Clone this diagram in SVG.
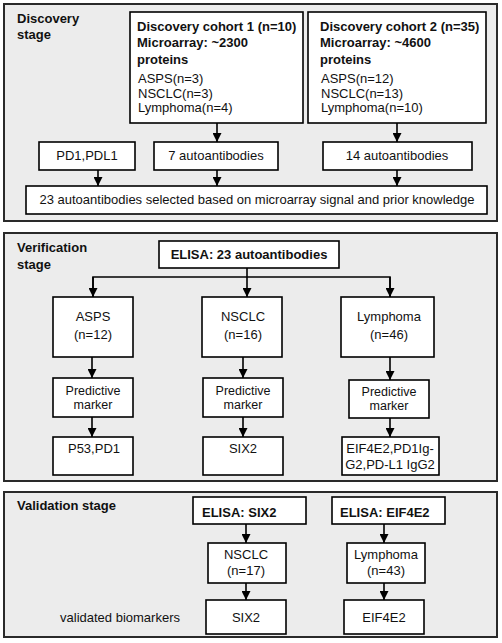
<svg xmlns="http://www.w3.org/2000/svg" width="502" height="643" viewBox="0 0 502 643">
<defs>
<marker id="ah" viewBox="0 0 10 10" refX="10" refY="5" markerWidth="9" markerHeight="9" markerUnits="userSpaceOnUse" orient="auto">
<path d="M0,0 L10,5 L0,10 z" fill="#000"/>
</marker>
<style>
.panel{fill:#ececec;stroke:#2a2a2a;stroke-width:2}
.box{fill:#fff;stroke:#000;stroke-width:1.6}
.t{font-family:"Liberation Sans",Arial,sans-serif;font-size:13px;fill:#111}
.s{font-size:12.5px}
.b{font-weight:bold}
.c{text-anchor:middle}
.ln{fill:none;stroke:#000;stroke-width:1.6}
.ar{fill:none;stroke:#000;stroke-width:1.6;marker-end:url(#ah)}
</style>
</defs>
<rect width="502" height="643" fill="#fff"/>
<g id="panel-discovery">
<rect class="panel" x="4" y="4" width="493" height="217"/>
<text class="t b" x="17" y="23">Discovery</text>
<text class="t b" x="17" y="39">stage</text>
</g>
<g id="panel-verification">
<rect class="panel" x="4" y="233" width="493" height="248"/>
<text class="t b" x="17" y="252">Verification</text>
<text class="t b" x="17" y="269">stage</text>
</g>
<g id="panel-validation">
<rect class="panel" x="4" y="492" width="493" height="145"/>
<text class="t b" x="17" y="510">Validation stage</text>
<text class="t" x="120" y="622" text-anchor="middle">validated biomarkers</text>
</g>
<g id="connectors">
<line class="ar" x1="217" y1="123" x2="217" y2="142"/>
<line class="ar" x1="397" y1="123" x2="397" y2="142"/>
<line class="ar" x1="98" y1="170" x2="98" y2="186"/>
<line class="ar" x1="217" y1="170" x2="217" y2="186"/>
<line class="ar" x1="397" y1="170" x2="397" y2="186"/>
<line class="ln" x1="247" y1="268" x2="247" y2="277"/>
<polyline class="ln" points="93,297 93,277 390,277 390,297"/>
<line class="ar" x1="93" y1="277" x2="93" y2="297"/>
<line class="ar" x1="247" y1="277" x2="247" y2="297"/>
<line class="ar" x1="390" y1="277" x2="390" y2="297"/>
<line class="ar" x1="92" y1="357" x2="92" y2="378"/>
<line class="ar" x1="243" y1="357" x2="243" y2="378"/>
<line class="ar" x1="390" y1="357" x2="390" y2="380"/>
<line class="ar" x1="92" y1="417" x2="92" y2="437"/>
<line class="ar" x1="243" y1="417" x2="243" y2="437"/>
<line class="ar" x1="390" y1="418" x2="390" y2="437"/>
<line class="ar" x1="246" y1="524" x2="246" y2="543"/>
<line class="ar" x1="384" y1="524" x2="384" y2="543"/>
<line class="ar" x1="246" y1="583" x2="246" y2="600"/>
<line class="ar" x1="384" y1="583" x2="384" y2="600"/>
</g>
<g id="cohort1">
<rect class="box" x="130" y="12" width="173" height="111"/>
<text class="t b" x="137" y="31">Discovery cohort 1 (n=10)</text>
<text class="t b" x="137" y="47">Microarray: ~2300</text>
<text class="t b" x="137" y="64">proteins</text>
<text class="t" x="138" y="83">ASPS(n=3)</text>
<text class="t" x="138" y="98">NSCLC(n=3)</text>
<text class="t" x="138" y="112">Lymphoma(n=4)</text>
</g>
<g id="cohort2">
<rect class="box" x="308" y="12" width="178" height="111"/>
<text class="t b" x="320" y="31">Discovery cohort 2 (n=35)</text>
<text class="t b" x="320" y="47">Microarray: ~4600</text>
<text class="t b" x="320" y="64">proteins</text>
<text class="t" x="321" y="83">ASPS(n=12)</text>
<text class="t" x="321" y="98">NSCLC(n=13)</text>
<text class="t" x="321" y="112">Lymphoma(n=10)</text>
</g>
<g id="pd1pdl1">
<rect class="box" x="39" y="142" width="96" height="28"/>
<text class="t c" x="87" y="160">PD1,PDL1</text>
</g>
<g id="auto7">
<rect class="box" x="154" y="142" width="124" height="28"/>
<text class="t c" x="216" y="160">7 autoantibodies</text>
</g>
<g id="auto14">
<rect class="box" x="323" y="142" width="149" height="28"/>
<text class="t c" x="397" y="160">14 autoantibodies</text>
</g>
<g id="auto23">
<rect class="box" x="26" y="186" width="461" height="28"/>
<text class="t c" x="257" y="204">23 autoantibodies selected based on microarray signal and prior knowledge</text>
</g>
<g id="elisa23">
<rect class="box" x="159" y="241" width="180" height="27"/>
<text class="t b c" x="249" y="259">ELISA: 23 autoantibodies</text>
</g>
<g id="v-asps">
<rect class="box" x="53" y="297" width="80" height="60"/>
<text class="t c" x="93" y="321">ASPS</text>
<text class="t c" x="93" y="339">(n=12)</text>
</g>
<g id="v-nsclc">
<rect class="box" x="202" y="297" width="80" height="60"/>
<text class="t c" x="243" y="321">NSCLC</text>
<text class="t c" x="243" y="339">(n=16)</text>
</g>
<g id="v-lymphoma">
<rect class="box" x="341" y="297" width="93" height="60"/>
<text class="t c" x="389" y="321">Lymphoma</text>
<text class="t c" x="389" y="339">(n=46)</text>
</g>
<g id="pm-asps">
<rect class="box" x="53" y="378" width="80" height="39"/>
<text class="t s c" x="93" y="395">Predictive</text>
<text class="t s c" x="93" y="409">marker</text>
</g>
<g id="pm-nsclc">
<rect class="box" x="203" y="378" width="80" height="39"/>
<text class="t s c" x="243" y="395">Predictive</text>
<text class="t s c" x="243" y="409">marker</text>
</g>
<g id="pm-lymphoma">
<rect class="box" x="349" y="380" width="80" height="38"/>
<text class="t s c" x="389" y="396">Predictive</text>
<text class="t s c" x="389" y="410">marker</text>
</g>
<g id="r-asps">
<rect class="box" x="53" y="437" width="80" height="38"/>
<text class="t c" x="94" y="453">P53,PD1</text>
</g>
<g id="r-nsclc">
<rect class="box" x="203" y="437" width="80" height="38"/>
<text class="t c" x="243" y="453">SIX2</text>
</g>
<g id="r-lymphoma">
<rect class="box" x="342" y="437" width="97" height="38"/>
<text class="t c" x="390" y="453">EIF4E2,PD1Ig-</text>
<text class="t c" x="390" y="469">G2,PD-L1 IgG2</text>
</g>
<g id="elisa-six2">
<rect class="box" x="193" y="497" width="113" height="27"/>
<text class="t b" x="202" y="517">ELISA: SIX2</text>
</g>
<g id="elisa-eif4e2">
<rect class="box" x="332" y="497" width="113" height="27"/>
<text class="t b" x="340" y="517">ELISA: EIF4E2</text>
</g>
<g id="val-nsclc">
<rect class="box" x="208" y="543" width="78" height="40"/>
<text class="t c" x="246" y="559">NSCLC</text>
<text class="t c" x="246" y="575">(n=17)</text>
</g>
<g id="val-lymphoma">
<rect class="box" x="347" y="543" width="78" height="40"/>
<text class="t c" x="386" y="559">Lymphoma</text>
<text class="t c" x="386" y="575">(n=43)</text>
</g>
<g id="val-six2">
<rect class="box" x="206" y="600" width="80" height="34"/>
<text class="t c" x="246" y="622">SIX2</text>
</g>
<g id="val-eif4e2">
<rect class="box" x="344" y="600" width="80" height="34"/>
<text class="t c" x="384" y="622">EIF4E2</text>
</g>
</svg>
